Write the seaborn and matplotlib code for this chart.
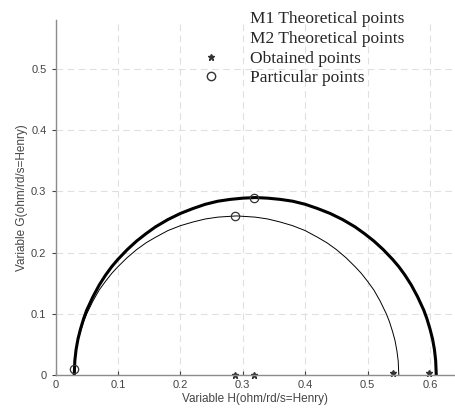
import matplotlib
matplotlib.use("Agg")
import matplotlib.pyplot as plt
from matplotlib.lines import Line2D
import seaborn as sns
import pandas as pd

# values
m1_h = [0.030, 0.031, 0.033, 0.036, 0.04, 0.045, 0.05, 0.06, 0.07, 0.08, 0.09, 0.10, 0.115,
        0.13, 0.145, 0.16, 0.18, 0.20, 0.22, 0.24, 0.26, 0.28, 0.30, 0.32, 0.34, 0.36, 0.38,
        0.40, 0.42, 0.44, 0.46, 0.48, 0.495, 0.51, 0.525, 0.54, 0.55, 0.56, 0.57, 0.58, 0.59,
        0.595, 0.60, 0.604, 0.607, 0.609, 0.61]
m1_g = [0.0, 0.024, 0.042, 0.059, 0.075, 0.092, 0.106, 0.128, 0.147, 0.163, 0.177, 0.189, 0.205,
        0.219, 0.231, 0.242, 0.254, 0.264, 0.272, 0.279, 0.284, 0.287, 0.289, 0.29, 0.289, 0.287,
        0.284, 0.279, 0.272, 0.264, 0.254, 0.242, 0.231, 0.219, 0.205, 0.189, 0.177, 0.163,
        0.147, 0.128, 0.106, 0.092, 0.075, 0.059, 0.042, 0.024, 0.0]
m2_h = [0.030, 0.031, 0.033, 0.036, 0.04, 0.045, 0.05, 0.06, 0.07, 0.08, 0.09, 0.10, 0.115,
        0.13, 0.145, 0.16, 0.18, 0.20, 0.22, 0.24, 0.26, 0.29, 0.32, 0.34, 0.36, 0.38, 0.40,
        0.42, 0.435, 0.45, 0.465, 0.48, 0.49, 0.50, 0.51, 0.52, 0.53, 0.535, 0.54, 0.544,
        0.547, 0.549, 0.55]
m2_g = [0.0, 0.023, 0.039, 0.056, 0.071, 0.087, 0.100, 0.121, 0.139, 0.153, 0.166, 0.177, 0.192,
        0.205, 0.216, 0.225, 0.236, 0.244, 0.250, 0.255, 0.258, 0.26, 0.258, 0.255, 0.250,
        0.244, 0.236, 0.225, 0.216, 0.205, 0.192, 0.177, 0.166, 0.153, 0.139, 0.121, 0.100,
        0.087, 0.071, 0.056, 0.039, 0.023, 0.0]
obtained_h = [0.287, 0.318, 0.540, 0.599]
obtained_g = [0.0, 0.0, 0.004, 0.004]
particular_h = [0.030, 0.287, 0.318]
particular_g = [0.010, 0.260, 0.290]

x_ticks = [0, 0.1, 0.2, 0.3, 0.4, 0.5, 0.6]
y_ticks = [0, 0.1, 0.2, 0.3, 0.4, 0.5]

sns.set_style("white")
plt.rcParams["font.family"] = ["Liberation Sans", "DejaVu Sans"]

fig = plt.figure(figsize=(4.55, 4.09), dpi=100)
ax = fig.add_axes([0.122, 0.083, 0.878, 0.868])

m1 = pd.DataFrame({"H": m1_h, "G": m1_g})
m2 = pd.DataFrame({"H": m2_h, "G": m2_g})
sns.lineplot(data=m1, x="H", y="G", sort=False, color="black", linewidth=2.2, ax=ax)
sns.lineplot(data=m2, x="H", y="G", sort=False, color="black", linewidth=0.7, ax=ax)
ax.plot(obtained_h, obtained_g, linestyle="none", marker="*", markersize=5,
        color="#333333", clip_on=False)
ax.plot(particular_h, particular_g, linestyle="none", marker="o", markersize=6,
        markerfacecolor="none", markeredgecolor="#333333", markeredgewidth=0.9, clip_on=False)

ax.set_xlim(0, 0.64)
ax.set_ylim(0, 0.58)
ax.set_xticks(x_ticks)
ax.set_xticklabels([f"{v:g}" for v in x_ticks])
ax.set_yticks(y_ticks)
ax.set_yticklabels([f"{v:g}" for v in y_ticks])
ax.grid(True, linestyle=(0, (6, 4)), color="#e0e0e0", linewidth=0.8)
ax.tick_params(axis="both", labelsize=8, colors="#444444", length=3,
               left=True, bottom=True)
ax.tick_params(axis="x", direction="in")
ax.tick_params(axis="y", direction="out")
for side in ["top", "right"]:
    ax.spines[side].set_visible(False)
for side in ["left", "bottom"]:
    ax.spines[side].set_color("#8c8c8c")
    ax.spines[side].set_linewidth(1.0)
ax.set_xlabel("Variable H(ohm/rd/s=Henry)", fontsize=8.5, color="#444444", labelpad=2)
ax.set_ylabel("Variable G(ohm/rd/s=Henry)", fontsize=8.5, color="#444444", labelpad=2)

handles = [
    Line2D([], [], linestyle="none"),
    Line2D([], [], linestyle="none"),
    Line2D([], [], linestyle="none", marker="*", markersize=5, color="#333333"),
    Line2D([], [], linestyle="none", marker="o", markersize=6, markerfacecolor="none",
           markeredgecolor="#333333"),
]
labels = ["M1 Theoretical points", "M2 Theoretical points", "Obtained points", "Particular points"]
leg = fig.legend(handles, labels, loc="upper left", bbox_to_anchor=(0.417, 1.0),
                 frameon=False, handlelength=1.2, handletextpad=1.6, labelspacing=0.2,
                 borderpad=0.15, prop={"family": "Liberation Serif", "size": 12.5})

fig.savefig("out.png", dpi=100)
